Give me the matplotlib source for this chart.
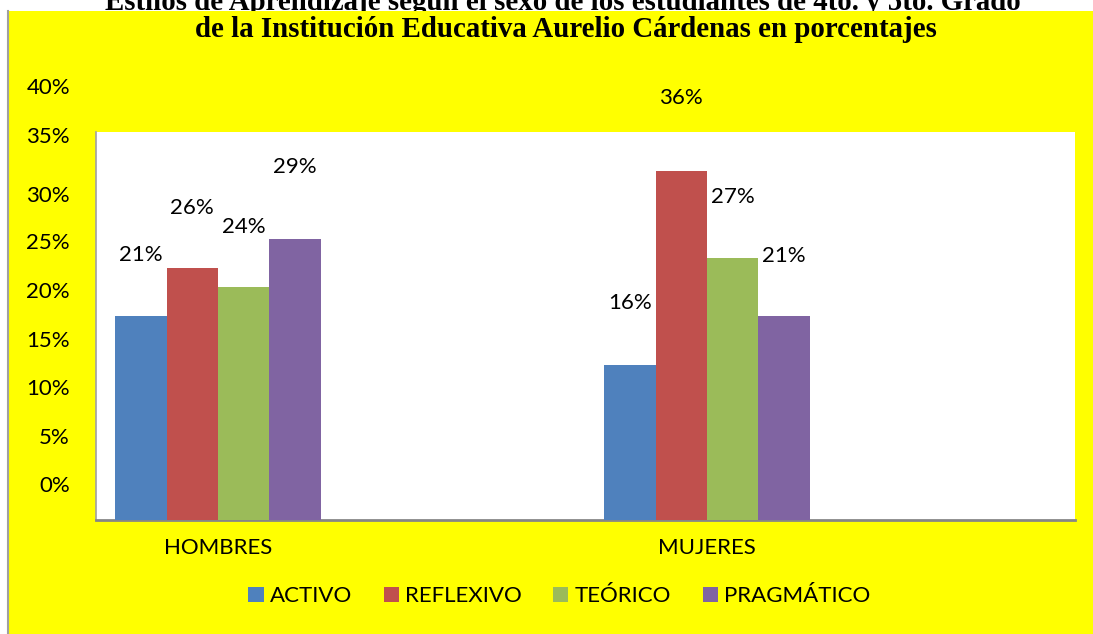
import matplotlib
matplotlib.use("Agg")
import matplotlib.pyplot as plt
from matplotlib.patches import Rectangle, Patch
from matplotlib.lines import Line2D
import numpy as np

# ---- data ----
categories = ["HOMBRES", "MUJERES"]
series = ["ACTIVO", "REFLEXIVO", "TEÓRICO", "PRAGMÁTICO"]
values = {
    "ACTIVO":     [21, 16],
    "REFLEXIVO":  [26, 36],
    "TEÓRICO":    [24, 27],
    "PRAGMÁTICO": [29, 21],
}
ytick_values = [0, 5, 10, 15, 20, 25, 30, 35, 40]
title_line1 = "Estilos de Aprendizaje según el sexo de los estudiantes de 4to. y 5to. Grado"
title_line2 = "de la Institución Educativa Aurelio Cárdenas en porcentajes"

# ---- styles ----
colors = ["#4F81BD", "#C0504D", "#9BBB59", "#8064A2"]
# label offsets (pixels above bar top) as drawn in the original
label_offsets_px = {
    "ACTIVO":     [61, 62],
    "REFLEXIVO":  [60, 73],
    "TEÓRICO":    [60, 61],
    "PRAGMÁTICO": [72, 60],
}
# tick label shift (in data units) as drawn in the original
tick_shift = [3.5, 3.45, 3.5, 3.45, 3.5, 3.55, 3.4, 4.5, 4.5]

W, H, DPI = 1093, 634, 100
fig = plt.figure(figsize=(W / DPI, H / DPI), dpi=DPI)
fig.patch.set_facecolor("white")

font = "Lato"
fs = 16

# yellow chart area
fig.add_artist(Rectangle((8 / W, 0), 1 - 8 / W, 1 - 11 / H, transform=fig.transFigure,
                         facecolor="#FFFF00", edgecolor="none", zorder=1))
fig.add_artist(Line2D([7.5 / W, 7.5 / W], [0, 1 - 11 / H], transform=fig.transFigure,
                      color="#A0A0A0", lw=1.5, zorder=2))

# title (first line partially hidden behind the yellow area)
fig.text(563 / W, 1 - 10 / H, title_line1, ha="center", va="baseline",
         fontfamily="Liberation Serif", fontweight="bold", fontsize=20.8, zorder=0)
fig.text(566 / W, 1 - 37 / H, title_line2, ha="center", va="baseline",
         fontfamily="Liberation Serif", fontweight="bold", fontsize=20.8, zorder=3)

ax_l, ax_r, ax_b, ax_t = 96, 1075, 520, 132
ax = fig.add_axes([ax_l / W, 1 - ax_b / H, (ax_r - ax_l) / W, (ax_b - ax_t) / H], zorder=4)
ax.set_facecolor("white")

x = np.arange(len(categories))
w = 0.105
for i, s in enumerate(series):
    xs = x + (i - 1.5) * w
    ax.bar(xs, values[s], width=w, color=colors[i], label=s, zorder=3)
    for xi, v, off in zip(xs, values[s], label_offsets_px[s]):
        ax.annotate(f"{v}%", (xi, v), xytext=(0, off * 72 / DPI), textcoords="offset points",
                    ha="center", va="center", fontfamily=font, fontsize=fs, color="black")

ax.set_ylim(0, 40)
ax.set_xlim(-0.2495, 1.7526)
ax.set_xticks([])
ax.set_yticks([])
for sp in ["top", "right"]:
    ax.spines[sp].set_visible(False)
ax.spines["left"].set_color("#A0A0A0")
ax.spines["left"].set_linewidth(1.2)
ax.spines["bottom"].set_color("#868686")
ax.spines["bottom"].set_linewidth(2)

# y tick labels (shifted as in the original)
ytr = ax.get_yaxis_transform()
for v, sh in zip(ytick_values, tick_shift):
    ax.text(-(ax_l - 70) / (ax_r - ax_l), v + sh, f"{v}%", transform=ytr, ha="right", va="center",
            fontfamily=font, fontsize=fs, clip_on=False)

# category labels
xtr = ax.get_xaxis_transform()
for xi, c in zip(x, categories):
    ax.text(xi, -28 / (ax_b - ax_t), c, transform=xtr, ha="center", va="center",
            fontfamily=font, fontsize=fs, clip_on=False)

handles = [Patch(facecolor=c, edgecolor="none") for c in colors]
leg = fig.legend(handles, series, loc="center", bbox_to_anchor=(559.5 / W, 1 - 596 / H),
                 ncol=4, frameon=False, prop={"family": font, "size": fs},
                 handlelength=0.68, handleheight=0.68, handletextpad=0.3, columnspacing=1.4,
                 borderpad=0)
leg.set_zorder(5)

fig.savefig("out.png", dpi=DPI, facecolor=fig.get_facecolor())
